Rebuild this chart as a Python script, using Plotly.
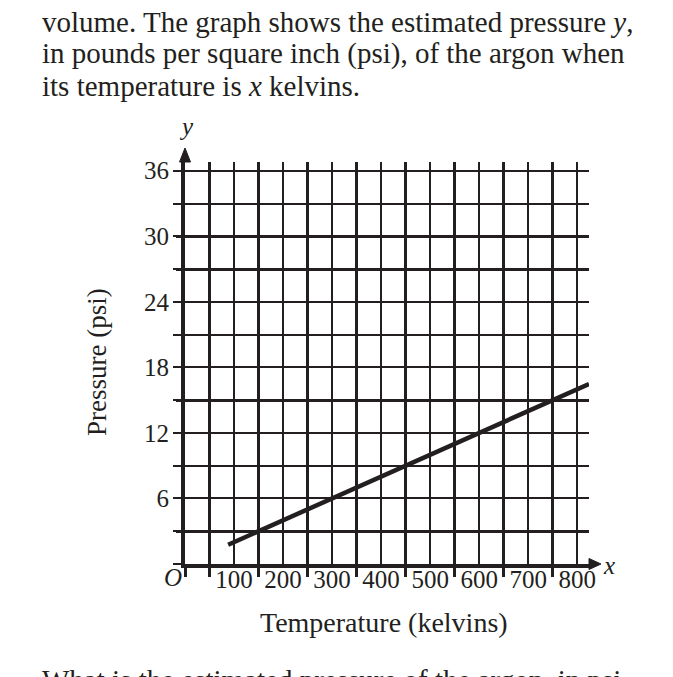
import plotly.graph_objects as go

# ---- data ----
temperature_k = [88, 824]          # x values (kelvins) at the ends of the drawn line
pressure_psi = [1.76, 16.48]       # y values (psi)

x_major_ticks = [100, 200, 300, 400, 500, 600, 700, 800]
x_major_text = ["100", "200", "300", "400", "500", "600", "700", "800"]
x_minor_ticks = [0, 50, 150, 250, 350, 450, 550, 650, 750]
y_tick_vals = [0, 3, 6, 9, 12, 15, 18, 21, 24, 27, 30, 33, 36]
y_tick_text = ["", "", "6", "", "12", "", "18", "", "24", "", "30", "", "36"]
y_heavy_vals = [3, 15, 27, 30]

X_MAX = 824
Y_MAX = 36.8
INK = "#231f20"
SERIF = "Liberation Serif"

W, H = 673, 677
ML, MR, MT, MB = 185, 84, 162, 113
PW = W - ML - MR
PH = H - MT - MB


def px_x(p):
    return (p - ML) / PW


def px_y(p):
    return (H - MB - p) / PH


fig = go.Figure()

# invisible trace on main subplot
fig.add_trace(go.Scatter(x=[0], y=[0], mode="markers", marker=dict(opacity=0),
                         hoverinfo="skip", showlegend=False))

fig.add_trace(go.Scatter(
    x=temperature_k, y=pressure_psi, mode="lines",
    line=dict(color=INK, width=4.5),
    xaxis="x", yaxis="y2", showlegend=False, hoverinfo="skip",
))

fig.update_layout(
    width=W, height=H,
    margin=dict(l=ML, r=MR, t=MT, b=MB),
    paper_bgcolor="white", plot_bgcolor="white",
    showlegend=False,
    font=dict(family=SERIF, color=INK, size=24),
    xaxis=dict(
        range=[0, X_MAX], tickmode="array", tickvals=x_major_ticks, ticktext=x_major_text,
        showgrid=True, gridcolor=INK, gridwidth=1.6,
        ticks="", ticklabelstandoff=-10,
        tickfont=dict(family=SERIF, size=25, color=INK),
        showline=True, linecolor=INK, linewidth=4,
        zeroline=False, fixedrange=True,
        minor=dict(tickmode="array", tickvals=x_minor_ticks, showgrid=True,
                   gridcolor=INK, gridwidth=3, ticks="outside", ticklen=9,
                   tickwidth=3, tickcolor=INK),
    ),
    yaxis=dict(
        range=[0, Y_MAX], tickmode="array", tickvals=y_tick_vals, ticktext=y_tick_text,
        showgrid=True, gridcolor=INK, gridwidth=1.8,
        ticks="outside", ticklen=8, tickwidth=2, tickcolor=INK,
        ticklabelstandoff=-1,
        tickfont=dict(family=SERIF, size=25, color=INK),
        showline=True, linecolor=INK, linewidth=4,
        zeroline=False, fixedrange=True,
    ),
    yaxis2=dict(
        overlaying="y", matches="y", range=[0, Y_MAX],
        tickmode="array", tickvals=y_heavy_vals, showticklabels=False,
        showgrid=True, gridcolor=INK, gridwidth=3.2,
        ticks="outside", ticklen=8, tickwidth=3, tickcolor=INK,
        showline=False, zeroline=False, fixedrange=True,
    ),
)

# arrow heads (paper-referenced so they are not clipped)
fig.add_shape(type="path", xref="paper", yref="paper", xsizemode="pixel", ysizemode="pixel",
              xanchor=1, yanchor=0, path="M 0,-5.5 L 12,0 L 0,5.5 Z",
              fillcolor=INK, line=dict(color=INK, width=1))
fig.add_shape(type="path", xref="paper", yref="paper", xsizemode="pixel", ysizemode="pixel",
              xanchor=0, yanchor=1, path="M -5.5,0 L 0,14 L 5.5,0 Z",
              fillcolor=INK, line=dict(color=INK, width=1))

# axis letters
fig.add_annotation(x=0, y=0, xref="x", yref="y", text="<i>O</i>", showarrow=False,
                   xshift=-12, yshift=-13, font=dict(family=SERIF, size=25, color=INK))
fig.add_annotation(x=X_MAX, y=0, xref="x", yref="y", text="<i>x</i>", showarrow=False,
                   xshift=20, yshift=-1, font=dict(family=SERIF, size=25, color=INK))
fig.add_annotation(x=0, y=Y_MAX, xref="x", yref="y", text="<i>y</i>", showarrow=False,
                   xshift=1, yshift=36, font=dict(family=SERIF, size=25, color=INK))

# axis titles
fig.add_annotation(x=px_x(384), y=px_y(622), xref="paper", yref="paper",
                   xanchor="center", yanchor="middle",
                   text="Temperature (kelvins)", showarrow=False,
                   font=dict(family=SERIF, size=28, color=INK))
fig.add_annotation(x=px_x(97), y=px_y(362), xref="paper", yref="paper",
                   xanchor="center", yanchor="middle",
                   text="Pressure (psi)", showarrow=False, textangle=-90,
                   font=dict(family=SERIF, size=27, color=INK))

# surrounding text
lines = [
    ("volume. The graph shows the estimated pressure <i>y</i>,", 22),
    ("in pounds per square inch (psi), of the argon when", 54),
    ("its temperature is <i>x</i> kelvins.", 86),
    ("What is the estimated pressure of the argon, in psi,", 680),
]
for txt, ypx in lines:
    fig.add_annotation(x=px_x(40), y=px_y(ypx), xref="paper", yref="paper",
                       xanchor="left", yanchor="middle", text=txt, showarrow=False,
                       font=dict(family=SERIF, size=29, color=INK))

fig.write_html("out.html")
